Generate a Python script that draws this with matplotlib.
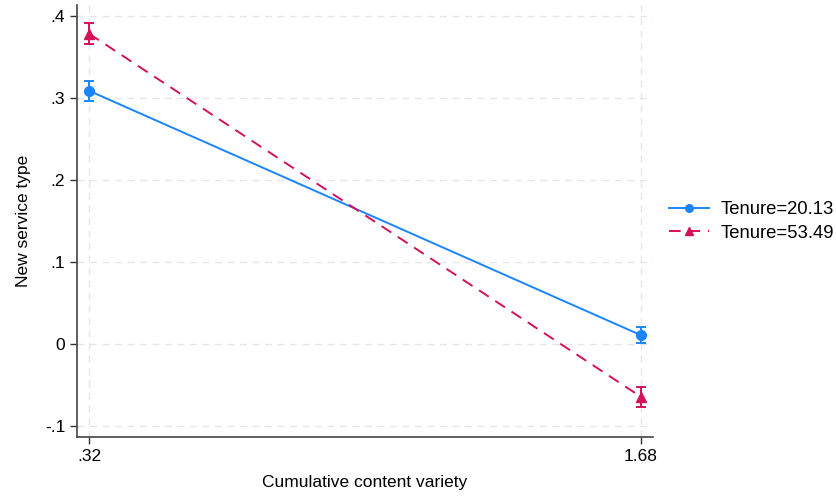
import matplotlib.pyplot as plt
from matplotlib.lines import Line2D

plt.rcParams['font.family'] = ['Liberation Sans', 'DejaVu Sans']

# Данные
x_vals = [0.32, 1.68]
x_labels = ['.32', '1.68']
y_ticks = [-0.1, 0, 0.1, 0.2, 0.3, 0.4]
y_labels = ['-.1', '0', '.1', '.2', '.3', '.4']

low_tenure = [0.3085, 0.011]
low_err = [0.0125, 0.010]
high_tenure = [0.378, -0.064]
high_err = [0.0125, 0.012]
names = ['Tenure=20.13', 'Tenure=53.49']

blue = '#1a85ff'
red = '#d41159'
dash = (0, (6, 4))

fig = plt.figure(figsize=(8.37, 4.98), dpi=100)
ax = fig.add_axes([0.092, 0.1225, 0.688, 0.8675])

ax.errorbar(x_vals, low_tenure, yerr=low_err, color=blue, marker='o', ms=7,
            lw=1.4, capsize=3.5, elinewidth=1.4, capthick=1.4)
ax.errorbar(x_vals, high_tenure, yerr=high_err, color=red, marker='^', ms=6.5,
            lw=1.4, ls=dash, capsize=3.5, elinewidth=1.4, capthick=1.4)

ax.set_xlim(0.290, 1.7096)
ax.set_ylim(-0.113, 0.413)
ax.set_xticks(x_vals)
ax.set_xticklabels(x_labels)
ax.set_yticks(y_ticks)
ax.set_yticklabels(y_labels)
ax.tick_params(labelsize=12.5, color='#333333', length=5, width=1)
ax.grid(True, ls=(0, (5, 4)), color='#e6e6e6', lw=1)
ax.set_axisbelow(True)
for s in ['top', 'right']:
    ax.spines[s].set_visible(False)
for s in ['left', 'bottom']:
    ax.spines[s].set_color('#444444')
    ax.spines[s].set_linewidth(1.2)

ax.set_xlabel('Cumulative content variety', fontsize=12.5, labelpad=8)
ax.set_ylabel('New service type', fontsize=12.5, labelpad=10)

# Легенда без усов
handles = [Line2D([], [], color=blue, marker='o', ms=5.5, lw=1.4),
           Line2D([], [], color=red, marker='^', ms=5.5, lw=1.4, ls=dash)]
fig.legend(handles, names, loc='center left', bbox_to_anchor=(0.799, 0.555),
           frameon=False, fontsize=13.3, handlelength=2.2, handletextpad=0.6,
           borderpad=0, borderaxespad=0, labelspacing=0.35)

fig.savefig('out.png', dpi=100)
